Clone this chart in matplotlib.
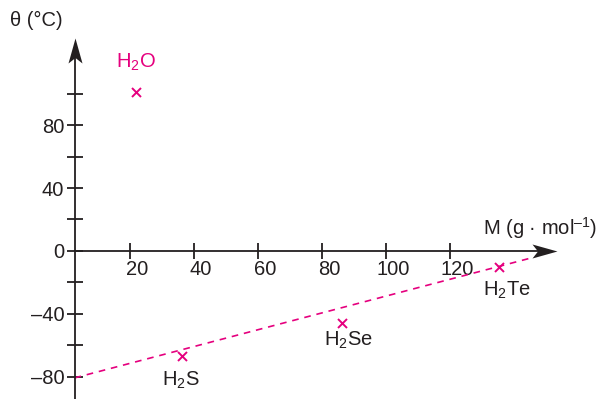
import matplotlib.pyplot as plt
from matplotlib.path import Path
from matplotlib.transforms import ScaledTranslation

plt.rcParams['font.family'] = ['Liberation Sans', 'DejaVu Sans']
plt.rcParams['mathtext.fontset'] = 'custom'
plt.rcParams['mathtext.rm'] = 'Liberation Sans'
plt.rcParams['mathtext.it'] = 'Liberation Sans'

# boiling points
compounds = ['H$_2$O', 'H$_2$S', 'H$_2$Se', 'H$_2$Te']
molar_mass = [21.9, 36.2, 86.2, 135.3]
boiling = [101, -66.7, -45.9, -10.3]
label_x = [21.9, 35.9, 88.1, 137.8]
label_y = [120, -81.9, -56.5, -24.8]
label_colors = ['#e5007e', '#231f20', '#231f20', '#231f20']

# dashed trend line (endpoints)
trend_x = [2.7, 145]
trend_y = [-80.6, -4.6]

x_ticks = [20, 40, 60, 80, 100, 120]
y_major = [80, 40, 0, -40, -80]
y_minor = [100, 60, 20, -20, -60]

pink = '#e5007e'
dark = '#231f20'

fig = plt.figure(figsize=(5.97, 3.99), dpi=100)
ax = fig.add_axes([0, 0, 1, 1])
ax.set_xlim(-20.6, 165.9)
ax.set_ylim(-94.0, 159.4)
ax.patch.set_alpha(0)

for s in ['top', 'right']:
    ax.spines[s].set_visible(False)
ax.spines['left'].set_position(('data', 2.7))
ax.spines['bottom'].set_position(('data', 0))
ax.spines['left'].set_bounds(-94, 128)
ax.spines['bottom'].set_bounds(2.7, 148)
for s in ['left', 'bottom']:
    ax.spines[s].set_linewidth(1.3)
    ax.spines[s].set_color(dark)

# stealth-like arrow heads as custom markers (tip at origin)
head_right = Path([(0, 0), (-1, 0.28), (-0.78, 0), (-1, -0.28), (0, 0)],
                  [Path.MOVETO, Path.LINETO, Path.LINETO, Path.LINETO, Path.CLOSEPOLY])
head_up = Path([(0, 0), (0.28, -1), (0, -0.78), (-0.28, -1), (0, 0)],
               [Path.MOVETO, Path.LINETO, Path.LINETO, Path.LINETO, Path.CLOSEPOLY])
ax.plot([153.4], [0], marker=head_right, markersize=36, color=dark,
        markeredgewidth=0, clip_on=False)
ax.plot([2.7], [135.5], marker=head_up, markersize=36, color=dark,
        markeredgewidth=0, clip_on=False)

ax.set_xticks(x_ticks)
ax.set_xticklabels([str(v) for v in x_ticks])
ax.set_yticks(y_major)
ax.set_yticklabels([str(v).replace('-', '\u2013') for v in y_major])
ax.set_yticks(y_minor, minor=True)
ax.tick_params(axis='both', which='both', direction='inout', length=11,
               width=1.3, color=dark, labelsize=14.5, labelcolor=dark)
ax.tick_params(axis='x', pad=1)
ax.tick_params(axis='y', pad=2)
for lab in ax.get_xticklabels():
    lab.set_transform(lab.get_transform() + ScaledTranslation(0.07, 0, fig.dpi_scale_trans))

# trend line and points
ax.plot(trend_x, trend_y, color=pink, lw=1.2, dashes=(4, 3.5))
ax.scatter(molar_mass, boiling, marker='x', s=42, color=pink, linewidths=1.4, zorder=3)

for name, lx, ly, c in zip(compounds, label_x, label_y, label_colors):
    ax.text(lx, ly, name, color=c, fontsize=14.5, ha='center', va='center')

ax.text(130.3, 14.6, 'M (g \u00b7 mol$^{\u2013 1}$)', color=dark, fontsize=14.5,
        ha='left', va='center')
ax.text(-17.5, 146.7, '\u03b8 (\u00b0C)', color=dark, fontsize=14.5,
        ha='left', va='center')

fig.savefig('out.png', dpi=100)
